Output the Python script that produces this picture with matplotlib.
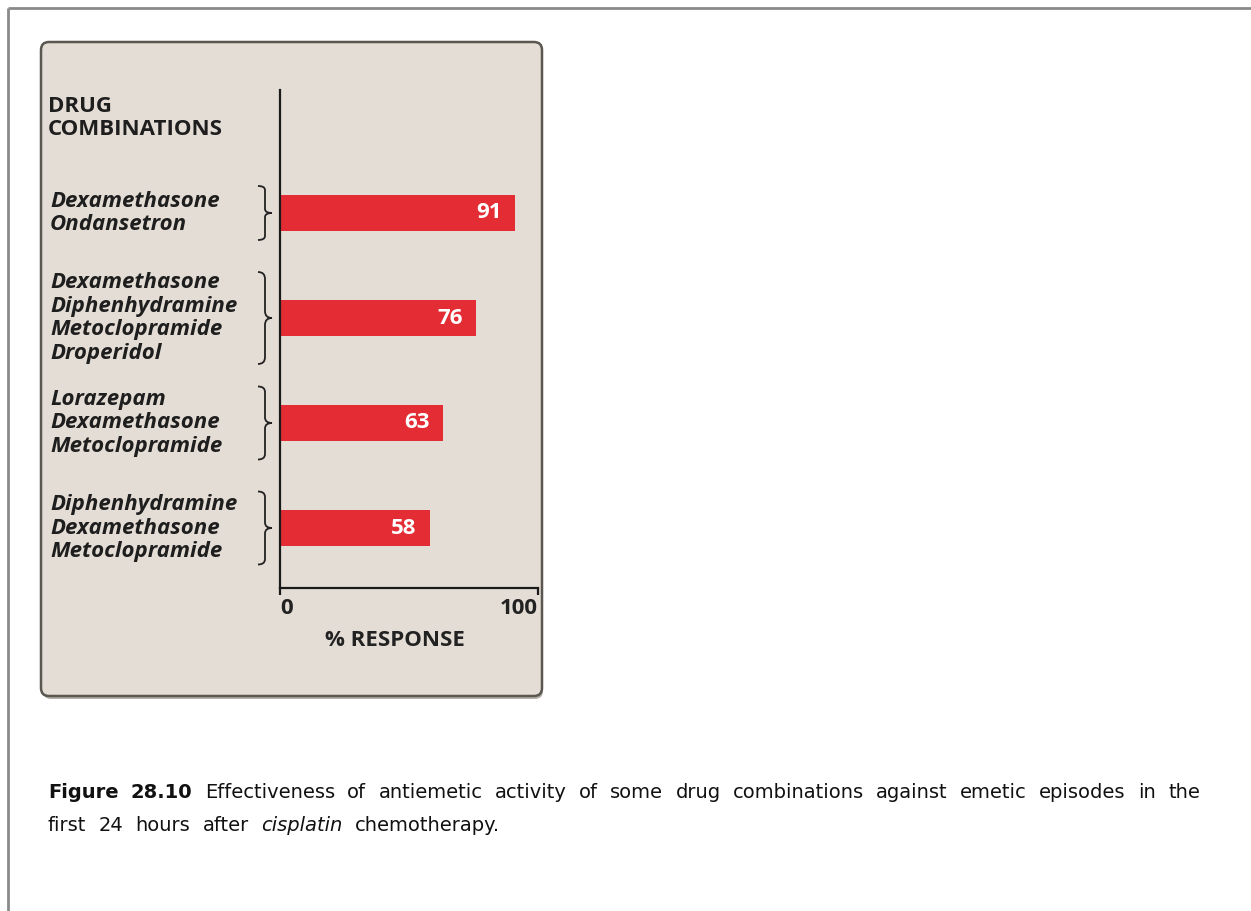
import numpy as np
import matplotlib.pyplot as plt
from matplotlib.patches import FancyBboxPatch, PathPatch
from matplotlib.path import Path
from matplotlib.transforms import blended_transform_factory

# data
combos = [
    ["Dexamethasone", "Ondansetron"],
    ["Dexamethasone", "Diphenhydramine", "Metoclopramide", "Droperidol"],
    ["Lorazepam", "Dexamethasone", "Metoclopramide"],
    ["Diphenhydramine", "Dexamethasone", "Metoclopramide"],
]
response = [91, 76, 63, 58]
xticks = [0, 100]

W, H = 1251, 911
PANEL_FONT = "Open Sans"
FS = 16
LS = 1.16
bar_red = "#e42c35"
panel_bg = "#e4ddd5"

fig = plt.figure(figsize=(W / 100, H / 100), dpi=100)

# background axes in pixel units, for frame / panel / caption
bg = fig.add_axes([0, 0, 1, 1])
bg.set_xlim(0, W)
bg.set_ylim(H, 0)
bg.axis("off")

# outer grey frame (only top and left visible)
bg.plot([8, 8], [8, H], color="#8a8a8a", lw=2, solid_capstyle="butt")
bg.plot([8, W], [8, 8], color="#8a8a8a", lw=2, solid_capstyle="butt")

# panel with a soft shadow
shadow = FancyBboxPatch((43, 45), 500, 654, boxstyle="round,pad=0,rounding_size=8",
                        fc="#b5b0aa", ec="none")
bg.add_patch(shadow)
panel = FancyBboxPatch((41, 42), 501, 654, boxstyle="round,pad=0,rounding_size=8",
                       fc=panel_bg, ec="#5a5650", lw=1.8)
bg.add_patch(panel)

# bar axes: x 280..538 px, y 90..588 px
ax_l, ax_r, ax_t, ax_b = 280, 538, 90, 588
ax = fig.add_axes([ax_l / W, 1 - ax_b / H, (ax_r - ax_l) / W, (ax_b - ax_t) / H])
ax.patch.set_alpha(0)

px_per_unit = 105.0
ypos = np.arange(len(response))
ymin = -(213 - ax_t) / px_per_unit
ymax = ymin + (ax_b - ax_t) / px_per_unit
ax.barh(ypos, response, height=36 / px_per_unit, color=bar_red, zorder=2)
ax.set_ylim(ymax, ymin)
ax.set_xlim(0, 100)

for sp in ["top", "right"]:
    ax.spines[sp].set_visible(False)
for sp in ["left", "bottom"]:
    ax.spines[sp].set_linewidth(1.6)
    ax.spines[sp].set_color("#1a1a1a")
ax.set_yticks([])
ax.set_xticks(xticks)
ticklabs = ax.set_xticklabels([str(t) for t in xticks], fontfamily=PANEL_FONT,
                              fontweight="bold", fontsize=FS, color="#222222")
ticklabs[0].set_ha("left")
ticklabs[-1].set_ha("right")
ax.tick_params(axis="x", direction="out", length=5, width=1.6, color="#1a1a1a", pad=2)

ax.text((395 - ax_l) / (ax_r - ax_l), -(641 - ax_b) / (ax_b - ax_t), "% RESPONSE",
        transform=ax.transAxes, ha="center", va="center", fontfamily=PANEL_FONT,
        fontweight="bold", fontsize=FS, color="#222222")

for y, v in zip(ypos, response):
    ax.text(v - 10, y, str(v), color="white", fontweight="bold", fontsize=FS,
            fontfamily=PANEL_FONT, ha="center", va="center", zorder=3)

# group labels and braces
lab_tr = blended_transform_factory(fig.transFigure, ax.transData)
brace_tr = blended_transform_factory(bg.transData, ax.transData)
for y, names in zip(ypos, combos):
    ax.text(50 / W, y, "\n".join(names), transform=lab_tr, ha="left", va="center",
            fontfamily=PANEL_FONT, fontweight="bold", fontstyle="italic", fontsize=FS,
            linespacing=LS, color="#1e1e1e", clip_on=False)
    half = (8 + 9.5 * len(names)) / px_per_unit
    x0, xm, x1 = 258, 265, 272
    t, b = y - half, y + half
    verts = [(x0, t), (xm, t), (xm, t + 0.15 * half),
             (xm, y - 0.15 * half), (xm, y), (x1, y),
             (xm, y), (xm, y + 0.15 * half),
             (xm, b - 0.15 * half), (xm, b), (x0, b)]
    codes = [Path.MOVETO, Path.CURVE3, Path.CURVE3,
             Path.LINETO, Path.CURVE3, Path.CURVE3,
             Path.CURVE3, Path.CURVE3,
             Path.LINETO, Path.CURVE3, Path.CURVE3]
    ax.add_patch(PathPatch(Path(verts, codes), transform=brace_tr, fc="none",
                           ec="#222222", lw=1.3, clip_on=False))

ax.text(48 / W, 1 - 118 / H, "DRUG\nCOMBINATIONS", transform=fig.transFigure,
        ha="left", va="center", fontfamily=PANEL_FONT, fontweight="bold", fontsize=FS,
        linespacing=LS, color="#1e1e1e")

# caption, drawn word by word and spread to the width of the original line
renderer = fig.canvas.get_renderer()
CAP_X0, CAP_X1 = 48, 1200
CAP_FONT, CAP_FS = "DejaVu Sans", 14


def word_runs(runs):
    out = []
    for txt, style in runs:
        out += [(w, style) for w in txt.split()]
    return out


def measure(words):
    widths = []
    for w, style in words:
        t = bg.text(0, 0, w, fontsize=CAP_FS, fontfamily=CAP_FONT,
                    fontweight="bold" if style == "b" else "normal",
                    fontstyle="italic" if style == "i" else "normal")
        bb = t.get_window_extent(renderer=renderer)
        widths.append(bb.width * W / fig.bbox.width)
        t.remove()
    return widths


def caption_line(y, words, gap):
    widths = measure(words)
    x = CAP_X0
    for (w, style), wd in zip(words, widths):
        bg.text(x, y, w, ha="left", va="baseline", fontsize=CAP_FS,
                fontfamily=CAP_FONT, color="#111111",
                fontweight="bold" if style == "b" else "normal",
                fontstyle="italic" if style == "i" else "normal")
        x += wd + gap


line1 = word_runs([("Figure 28.10", "b"),
                   ("Effectiveness of antiemetic activity of some drug combinations "
                    "against emetic episodes in the", "n")])
line2 = word_runs([("first 24 hours after", "n"), ("cisplatin", "i"),
                   ("chemotherapy.", "n")])
w1 = measure(line1)
gap = (CAP_X1 - CAP_X0 - sum(w1)) / (len(line1) - 1)
caption_line(798, line1, gap)
caption_line(831, line2, gap)

fig.savefig("out.png", dpi=100)
